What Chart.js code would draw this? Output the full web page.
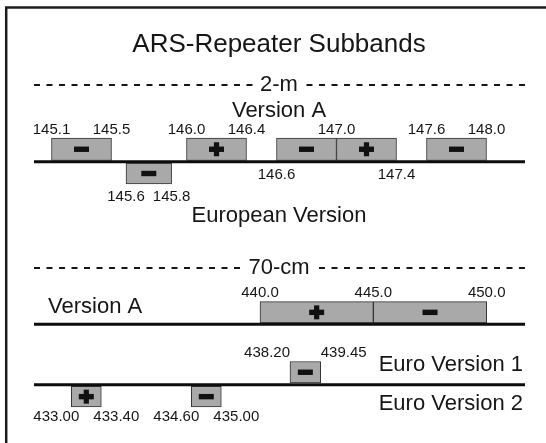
<!DOCTYPE html>
<html><head><meta charset="utf-8">
<script src="https://cdn.jsdelivr.net/npm/chart.js@4/dist/chart.umd.min.js"></script>
<style>html,body{margin:0;padding:0;background:#fff}canvas{display:block}</style>
</head><body>
<canvas id="c" width="546" height="443"></canvas>
<script>
// ---------------- data ----------------
const chartTitle = 'ARS-Repeater Subbands';
const bandTitles = ['2-m', '70-cm'];
const rowNames = ['Version A', 'European Version', 'Version A', 'Euro Version 1', 'Euro Version 2'];

// 2-m, Version A (MHz)
const vA2mStart = [145.1, 146.0, 146.6, 147.0, 147.6];
const vA2mEnd   = [145.5, 146.4, 147.0, 147.4, 148.0];
const vA2mSign  = ['-', '+', '-', '+', '-'];
const vA2mLabelsAbove = ['145.1', '145.5', '146.0', '146.4', '147.0', '147.6', '148.0'];
const vA2mLabelsBelow = ['146.6', '147.4'];

// 2-m, European Version
const eu2mStart = [145.6];
const eu2mEnd   = [145.8];
const eu2mSign  = ['-'];
const eu2mLabels = ['145.6', '145.8'];

// 70-cm, Version A
const vA70Start = [440.0, 445.0];
const vA70End   = [445.0, 450.0];
const vA70Sign  = ['+', '-'];
const vA70Labels = ['440.0', '445.0', '450.0'];

// 70-cm, Euro Version 1
const eu1Start = [438.20];
const eu1End   = [439.45];
const eu1Sign  = ['-'];
const eu1Labels = ['438.20', '439.45'];

// 70-cm, Euro Version 2
const eu2Start = [433.00, 434.60];
const eu2End   = [433.40, 435.00];
const eu2Sign  = ['+', '-'];
const eu2Labels = ['433.00', '433.40', '434.60', '435.00'];

// ---------------- layout / style ----------------
const W = 546, H = 443;
const FONT = '"Liberation Sans", Arial, Helvetica, sans-serif';
const INK = '#161616';
const LINE_X0 = 34, LINE_X1 = 525, CENTER_X = 279;
const BAR_FILL = '#a9a9a9', BAR_EDGE = '#333333';

// each row gets its own horizontal scale: value "anchor" sits at pixel "px", "ppu" pixels per MHz
const rows = [
  {id: 'xA2m', start: vA2mStart, end: vA2mEnd, sign: vA2mSign, anchor: 145.0, px: 36.5, ppu: 150,  top: 138,   bottom: 160.5},
  {id: 'xE2m', start: eu2mStart, end: eu2mEnd, sign: eu2mSign, anchor: 145.6, px: 126,  ppu: 228,  top: 163,   bottom: 184},
  {id: 'xA70', start: vA70Start, end: vA70End, sign: vA70Sign, anchor: 440.0, px: 260,  ppu: 22.67, top: 301.7, bottom: 323},
  {id: 'xE1',  start: eu1Start,  end: eu1End,  sign: eu1Sign,  anchor: 438.2, px: 290,  ppu: 24.56, top: 361.5, bottom: 383},
  {id: 'xE2',  start: eu2Start,  end: eu2End,  sign: eu2Sign,  anchor: 433.0, px: 71.3, ppu: 75,   top: 386.3, bottom: 407}
];

const labelGroups = [
  {axis: 'xA2m', labels: vA2mLabelsAbove, y: 130,   mode: 'center'},
  {axis: 'xA2m', labels: vA2mLabelsBelow, y: 175,   mode: 'center'},
  {axis: 'xE2m', labels: eu2mLabels,      y: 196.5, mode: 'center'},
  {axis: 'xA70', labels: vA70Labels,      y: 293,   mode: 'center'},
  {axis: 'xE1',  labels: eu1Labels,       y: 352.5, mode: 'outside'},
  {axis: 'xE2',  labels: eu2Labels,       y: 417,   mode: 'offset', offset: 15}
];

const baselines = [161.8, 324.3, 384.8];
const dashed = [{text: bandTitles[0], y: 85}, {text: bandTitles[1], y: 268}];
const bigTexts = [
  {text: rowNames[0], x: CENTER_X, y: 111, align: 'center'},
  {text: rowNames[1], x: CENTER_X, y: 216, align: 'center'},
  {text: rowNames[2], x: 48, y: 307, align: 'left'},
  {text: rowNames[3], x: 523, y: 365, align: 'right'},
  {text: rowNames[4], x: 523, y: 404, align: 'right'}
];

// ---------------- chart ----------------
const scales = {
  y: {type: 'linear', min: 0, max: H, reverse: true, display: false, offset: false, grace: 0}
};
rows.forEach(r => {
  const min = r.anchor - r.px / r.ppu;
  scales[r.id] = {type: 'linear', axis: 'x', position: 'bottom', display: false, offset: false, min: min, max: min + W / r.ppu};
});

const datasets = rows.map(r => ({
  data: r.start.map((s, i) => ({x: [s, r.end[i]], y: (r.top + r.bottom) / 2})),
  signs: r.sign,
  xAxisID: r.id,
  yAxisID: 'y',
  grouped: false,
  barThickness: r.bottom - r.top,
  backgroundColor: BAR_FILL,
  borderColor: BAR_EDGE,
  borderWidth: 1,
  borderSkipped: false
}));

const decor = {
  id: 'decor',
  beforeDraw(chart) {
    const ctx = chart.ctx;
    ctx.save();
    ctx.fillStyle = '#fff';
    ctx.fillRect(0, 0, W, H);
    // frame
    ctx.strokeStyle = '#1c1c1c';
    ctx.lineWidth = 2.5;
    ctx.beginPath();
    ctx.moveTo(6.2, H + 2); ctx.lineTo(6.2, 7.5); ctx.lineTo(W + 2, 7.5);
    ctx.stroke();
    // title
    ctx.fillStyle = INK;
    ctx.textAlign = 'center';
    ctx.textBaseline = 'middle';
    ctx.font = '26px ' + FONT;
    ctx.fillText(chartTitle, CENTER_X, 44.5);
    // dashed band separators
    ctx.font = '22px ' + FONT;
    dashed.forEach(d => {
      const w = ctx.measureText(d.text).width;
      ctx.fillText(d.text, CENTER_X, d.y);
      ctx.strokeStyle = INK;
      ctx.lineWidth = 2;
      ctx.setLineDash([6, 6.5]);
      ctx.beginPath();
      ctx.moveTo(LINE_X0, d.y); ctx.lineTo(CENTER_X - w / 2 - 5, d.y);
      ctx.stroke();
      ctx.beginPath();
      ctx.moveTo(LINE_X1, d.y); ctx.lineTo(CENTER_X + w / 2 + 5, d.y);
      ctx.stroke();
      ctx.setLineDash([]);
    });
    // row names
    bigTexts.forEach(t => {
      ctx.textAlign = t.align;
      ctx.fillText(t.text, t.x, t.y);
    });
    ctx.restore();
  },
  afterDatasetsDraw(chart) {
    const ctx = chart.ctx;
    ctx.save();
    // baselines
    ctx.strokeStyle = '#0d0d0d';
    ctx.lineWidth = 3;
    baselines.forEach(y => {
      ctx.beginPath(); ctx.moveTo(LINE_X0, y); ctx.lineTo(LINE_X1, y); ctx.stroke();
    });
    // signs
    ctx.fillStyle = '#111';
    chart.data.datasets.forEach((ds, di) => {
      const meta = chart.getDatasetMeta(di);
      meta.data.forEach((el, i) => {
        const p = el.getProps(['x', 'y', 'base'], true);
        const cx = (p.x + p.base) / 2, cy = p.y;
        ctx.fillRect(cx - 7.5, cy - 2.7, 15, 5.4);
        if (ds.signs[i] === '+') ctx.fillRect(cx - 2.6, cy - 7, 5.2, 14);
      });
    });
    // frequency labels
    ctx.fillStyle = INK;
    ctx.font = '15px ' + FONT;
    ctx.textBaseline = 'middle';
    labelGroups.forEach(g => {
      const sc = chart.scales[g.axis];
      g.labels.forEach((lab, i) => {
        let x = sc.getPixelForValue(Number(lab));
        ctx.textAlign = 'center';
        if (g.mode === 'outside') ctx.textAlign = (i % 2 === 0) ? 'right' : 'left';
        if (g.mode === 'offset') x += (i % 2 === 0) ? -g.offset : g.offset;
        ctx.fillText(lab, x, g.y);
      });
    });
    ctx.restore();
  }
};

new Chart(document.getElementById('c'), {
  type: 'bar',
  data: {datasets},
  options: {
    indexAxis: 'y',
    responsive: false,
    animation: false,
    layout: {padding: 0},
    scales,
    plugins: {legend: {display: false}, tooltip: {enabled: false}, title: {display: false}}
  },
  plugins: [decor]
});
</script>
</body></html>
